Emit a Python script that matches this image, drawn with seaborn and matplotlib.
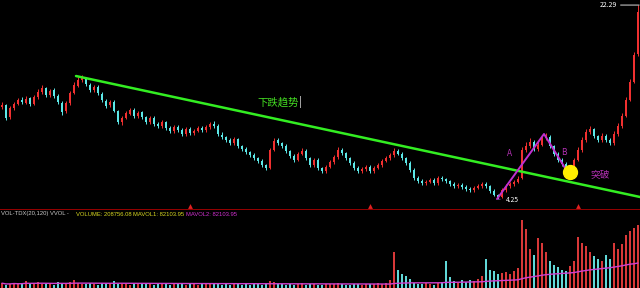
import numpy as np
import pandas as pd
import matplotlib
matplotlib.use("Agg")
import matplotlib.pyplot as plt
import seaborn as sns

# ---------------- data ----------------
opens = [12.80, 12.95, 11.85, 12.70, 13.10, 13.50, 13.20, 13.60, 13.05, 13.70,
         14.25, 14.55, 13.90, 14.35, 13.85, 13.20, 12.40, 13.15, 14.15, 14.80,
         15.35, 15.45, 14.90, 14.35, 14.70, 14.05, 13.40, 12.95, 13.30, 12.40,
         11.40, 11.80, 12.20, 12.55, 11.95, 12.30, 11.85, 11.40, 11.80, 11.20,
         11.05, 11.40, 10.90, 10.55, 10.95, 10.70, 10.30, 10.80, 10.35, 10.60,
         10.85, 10.65, 10.95, 11.25, 11.05, 10.25, 10.00, 9.75, 9.45, 9.85,
         9.15, 8.90, 8.60, 8.35, 8.05, 7.80, 7.40, 7.15, 8.85, 9.70,
         9.45, 9.20, 8.70, 8.25, 7.90, 8.45, 8.75, 8.05, 7.40, 7.90,
         7.10, 6.85, 7.25, 7.70, 8.15, 8.85, 8.50, 8.05, 7.60, 7.15,
         6.85, 7.05, 7.25, 6.85, 7.15, 7.40, 7.80, 8.05, 8.35, 8.75,
         8.45, 8.05, 7.60, 6.95, 6.20, 5.95, 5.70, 5.85, 6.05, 5.75,
         6.20, 6.10, 5.90, 5.65, 5.45, 5.55, 5.40, 5.20, 5.05, 5.30,
         5.45, 5.65, 5.45, 5.00, 4.60, 4.45, 5.10, 5.45, 5.65, 5.85,
         6.20, 8.85, 9.20, 9.55, 8.90, 9.30, 9.95, 10.05, 9.15, 8.45,
         7.90, 7.50, 7.10, 7.25, 7.90, 8.80, 9.75, 10.50, 10.75, 10.10,
         9.70, 10.15, 9.75, 9.45, 10.30, 11.05, 12.00, 13.50, 15.15, 17.70]
closes = [13.00, 11.79, 12.72, 13.09, 13.46, 13.27, 13.55, 13.09, 13.74, 14.20,
          14.58, 13.93, 14.30, 13.83, 13.27, 12.34, 13.18, 14.11, 14.86, 15.32,
          15.51, 14.95, 14.39, 14.67, 14.11, 13.46, 12.90, 13.27, 12.44, 11.41,
          11.79, 12.25, 12.53, 11.97, 12.25, 11.88, 11.41, 11.79, 11.23, 11.04,
          11.41, 10.86, 10.58, 10.95, 10.67, 10.30, 10.76, 10.39, 10.58, 10.86,
          10.67, 10.95, 11.23, 11.04, 10.30, 10.02, 9.74, 9.46, 9.83, 9.18,
          8.90, 8.62, 8.35, 8.07, 7.79, 7.42, 7.14, 8.81, 9.65, 9.46,
          9.18, 8.72, 8.25, 7.88, 8.44, 8.72, 8.07, 7.42, 7.88, 7.14,
          6.86, 7.23, 7.69, 8.16, 8.81, 8.53, 8.07, 7.60, 7.14, 6.86,
          7.04, 7.23, 6.86, 7.14, 7.42, 7.79, 8.07, 8.35, 8.72, 8.44,
          8.07, 7.60, 6.95, 6.21, 5.93, 5.74, 5.83, 6.02, 5.74, 6.21,
          6.11, 5.93, 5.65, 5.46, 5.56, 5.37, 5.18, 5.09, 5.28, 5.46,
          5.65, 5.46, 5.00, 4.62, 4.44, 5.09, 5.46, 5.65, 5.83, 6.11,
          8.81, 9.18, 9.55, 8.90, 9.28, 9.93, 10.02, 9.18, 8.44, 7.88,
          7.51, 7.14, 7.23, 7.88, 8.81, 9.74, 10.48, 10.76, 10.11, 9.74,
          10.11, 9.74, 9.46, 10.30, 11.04, 11.97, 13.46, 15.13, 17.65, 21.64]
highs = [13.25, 13.10, 12.90, 13.30, 13.65, 13.70, 13.80, 13.75, 13.95, 14.45,
         14.90, 14.70, 14.50, 14.55, 14.00, 13.35, 13.40, 14.30, 15.10, 15.60,
         15.75, 15.60, 15.05, 14.90, 14.85, 14.20, 13.55, 13.50, 13.45, 12.55,
         11.95, 12.45, 12.75, 12.70, 12.45, 12.45, 12.00, 11.95, 11.95, 11.40,
         11.60, 11.55, 11.05, 11.15, 11.10, 10.85, 10.95, 10.95, 10.80, 11.05,
         11.00, 11.15, 11.45, 11.55, 11.20, 10.45, 10.15, 9.90, 10.00, 9.95,
         9.30, 9.05, 8.75, 8.50, 8.20, 7.95, 7.55, 9.00, 9.90, 9.95,
         9.60, 9.35, 8.85, 8.40, 8.65, 8.95, 8.90, 8.20, 8.05, 8.05,
         7.25, 7.40, 7.85, 8.35, 9.05, 9.00, 8.65, 8.20, 7.75, 7.30,
         7.20, 7.40, 7.40, 7.30, 7.60, 7.95, 8.25, 8.55, 8.95, 8.90,
         8.60, 8.20, 7.75, 7.10, 6.35, 6.10, 6.00, 6.20, 6.20, 6.40,
         6.35, 6.25, 6.05, 5.80, 5.75, 5.70, 5.55, 5.35, 5.45, 5.65,
         5.85, 5.80, 5.60, 5.15, 4.75, 5.25, 5.65, 5.85, 6.05, 6.35,
         9.05, 9.55, 9.90, 9.70, 9.55, 10.20, 10.35, 10.20, 9.30, 8.60,
         8.05, 7.65, 7.45, 8.05, 9.05, 10.00, 10.75, 11.05, 10.90, 10.25,
         10.35, 10.30, 9.90, 10.55, 11.30, 12.25, 13.70, 15.40, 17.95, 22.29]
lows = [12.60, 11.60, 11.70, 12.55, 12.95, 13.10, 13.05, 12.90, 12.95, 13.55,
        14.05, 13.75, 13.70, 13.65, 13.05, 12.10, 12.25, 13.00, 14.00, 14.65,
        15.10, 14.80, 14.20, 14.20, 13.95, 13.30, 12.70, 12.80, 12.30, 11.20,
        11.10, 11.65, 12.05, 11.80, 11.80, 11.70, 11.25, 11.25, 11.05, 10.85,
        10.90, 10.70, 10.40, 10.40, 10.50, 10.10, 10.15, 10.20, 10.20, 10.45,
        10.50, 10.50, 10.80, 10.85, 10.10, 9.85, 9.55, 9.30, 9.30, 9.00,
        8.70, 8.45, 8.15, 7.90, 7.60, 7.25, 6.95, 7.05, 8.70, 9.30,
        9.00, 8.55, 8.05, 7.70, 7.75, 8.30, 7.90, 7.25, 7.25, 6.95,
        6.70, 6.70, 7.10, 7.55, 8.00, 8.35, 7.90, 7.45, 6.95, 6.70,
        6.70, 6.90, 6.70, 6.70, 7.00, 7.25, 7.65, 7.90, 8.20, 8.30,
        7.90, 7.45, 6.80, 6.05, 5.75, 5.55, 5.55, 5.70, 5.60, 5.60,
        5.95, 5.75, 5.50, 5.30, 5.30, 5.20, 5.00, 4.95, 4.90, 5.15,
        5.30, 5.30, 4.85, 4.50, 4.25, 4.35, 4.95, 5.30, 5.50, 5.70,
        6.10, 8.60, 9.00, 8.70, 8.75, 9.15, 9.75, 9.00, 8.25, 7.70,
        7.35, 6.95, 6.95, 7.10, 7.75, 8.65, 9.60, 10.30, 9.95, 9.55,
        9.55, 9.55, 9.30, 9.30, 10.15, 10.90, 11.85, 13.35, 15.00, 17.55]
volumes_k = [16, 11, 14, 18, 12, 15, 24, 13, 17, 20, 14, 12, 16, 11, 19, 13, 15, 21, 26, 17,
             14, 12, 18, 13, 11, 15, 17, 12, 22, 14, 13, 16, 11, 15, 12, 14, 17, 13, 11, 15,
             12, 14, 11, 13, 16, 12, 10, 14, 13, 11, 12, 15, 17, 14, 12, 11, 13, 10, 14, 12,
             11, 13, 10, 12, 14, 11, 12, 24, 20, 14, 12, 11, 13, 10, 12, 15, 11, 13, 12, 10,
             11, 13, 12, 14, 16, 12, 11, 10, 13, 12, 11, 14, 12, 13, 15, 12,
             18, 26, 120, 60,
             48, 40, 30, 18, 14, 12, 16, 13, 11, 15,
             20, 88, 35, 22, 18, 25, 20, 28, 24, 30,
             40, 95, 60, 55, 45, 50, 52, 48, 58, 65,
             225, 195, 130, 110, 165, 150, 120, 90, 75, 70,
             60, 55, 72, 90, 168, 150, 140, 120, 105, 95,
             88, 110, 95, 150, 130, 145, 175, 190, 200, 208.76]
event_idx = [47, 92, 144]
trend_x = [18.5, 159.5]
trend_y = [15.69, 4.44]
zig_x = [123.75, 135.5, 140.75]
zig_y = [4.25, 10.30, 7.14]
circle_x, circle_y = 142, 6.76
high_label, low_label = "22.29", "4.25"
vol_header = ["VOL-TDX(20,120) VVOL -", "VOLUME: 208756.08", "MAVOL1: 82103.95", "MAVOL2: 82103.95"]

# ---------------- style ----------------
sns.set_theme(style="dark", rc={"axes.facecolor": "black", "figure.facecolor": "black"})
plt.rcParams["font.family"] = ["Noto Sans CJK SC", "DejaVu Sans"]

UP = "#f03030"
DN = "#5ce8e8"

n = len(closes)
idx = np.arange(n)
df = pd.DataFrame({"i": idx, "open": opens, "close": closes, "high": highs,
                   "low": lows, "vol": volumes_k})
df["dir"] = np.where(df["close"] >= df["open"], "up", "down")
df["ma"] = df["vol"].rolling(60, min_periods=1).mean()

fig = plt.figure(figsize=(6.4, 2.88), dpi=100)
ax = fig.add_axes([0, 78 / 288, 1, 210 / 288])
axv = fig.add_axes([0, 0, 1, 76 / 288])
for a in (ax, axv):
    a.set_facecolor("black")
    a.set_xticks([]); a.set_yticks([])
    for s in a.spines.values():
        s.set_visible(False)
    a.grid(False)

ylo, yhi = 3.23, 22.76
ax.set_xlim(-0.5, n - 0.5)
ax.set_ylim(ylo, yhi)

# candles
colors = np.where(df["dir"] == "up", UP, DN)
ax.vlines(df["i"], df["low"], df["high"], colors=colors, lw=0.7)
body_b = np.minimum(df["open"], df["close"])
body_h = np.maximum(np.abs(df["close"] - df["open"]), 0.04)
ax.bar(df["i"], body_h, bottom=body_b, width=0.5, color=colors, linewidth=0)

# trend line
sns.lineplot(x=trend_x, y=trend_y, ax=ax, color="#33ee22", lw=1.8)
ax.text(69, 13.27, "下跌趋势", color="#44dd22", fontsize=7.5, ha="center", va="center")
ax.text(74.6, 13.27, "|", color="white", fontsize=7.5, ha="center", va="center")

# zigzag
sns.lineplot(x=zig_x, y=zig_y, ax=ax, color="#c030d0", lw=1.4, sort=False)
ax.plot([circle_x], [circle_y], "o", color="#ffee00", markersize=10, mec="#ffee00")
ax.text(127, 8.53, "A", color="#b030b0", fontsize=6, ha="center", va="center")
ax.text(140.5, 8.62, "B", color="#b030b0", fontsize=6, ha="center", va="center")
ax.text(149.5, 6.45, "突破", color="#b030b0", fontsize=7, ha="center", va="center")

# labels high / low
ax.annotate(low_label, xy=(123.75, 4.25), xytext=(126.0, 4.15), color="white",
            fontsize=4.8, va="center", ha="left",
            arrowprops=dict(arrowstyle="-", color="#cc33dd", lw=0.8))
ax.annotate(high_label, xy=(159.3, 22.29), xytext=(149.5, 22.29), color="white",
            fontsize=5, va="center", ha="left",
            arrowprops=dict(arrowstyle="-", color="white", lw=0.6,
                            shrinkA=0, shrinkB=0))

# event markers + separator
ax.axhline(ylo + 0.03, color="#b00000", lw=1.2)
ax.plot(event_idx, [ylo + 0.35] * len(event_idx), "^", color="#e02020",
        markersize=3.5, mew=0)

# volume
axv.set_xlim(-0.5, n - 0.5)
axv.set_ylim(0, 252)
sns.barplot(data=df, x="i", y="vol", hue="dir", palette={"up": "#d83838", "down": "#60d8d8"},
            native_scale=True, dodge=False, width=0.5, legend=False, ax=axv,
            linewidth=0, saturation=1)
sns.lineplot(data=df, x="i", y="ma", ax=axv, color="#d040d0", lw=1.0)
axv.set_xlabel(""); axv.set_ylabel("")
axv.set_xticks([]); axv.set_yticks([])
ax.set_xlabel(""); ax.set_ylabel("")

# volume header
hy = 1 - 214 / 288
xs = [1, 76, 133, 186]
cols = ["#c8c8c8", "#d8d820", "#d8d820", "#d030d0"]
for t, x0, c in zip(vol_header, xs, cols):
    fig.text(x0 / 640, hy, t, color=c, fontsize=4.2, va="center", ha="left",
             family=["Liberation Sans", "DejaVu Sans"])

fig.savefig("out.png", dpi=100, facecolor="black")
